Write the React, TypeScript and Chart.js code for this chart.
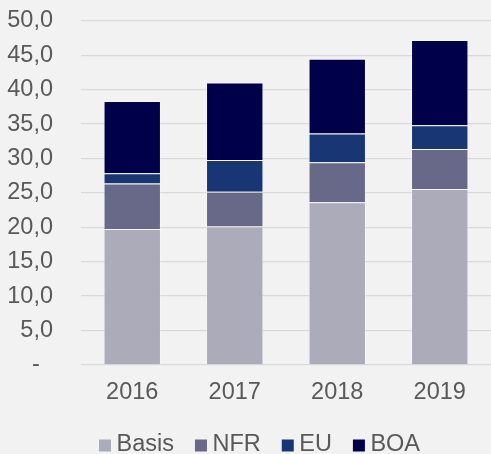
import React, { useEffect, useRef } from "react";
import { Chart, registerables } from "chart.js";

Chart.register(...registerables);

const categories = ["2016", "2017", "2018", "2019"];
const basis = [19.75, 20.1, 23.65, 25.55];
const nfr = [6.6, 5.05, 5.8, 5.85];
const eu = [1.5, 4.65, 4.2, 3.45];
const boa = [10.5, 11.25, 10.85, 12.4];

const seriesNames = ["Basis", "NFR", "EU", "BOA"];
const seriesColors = ["#ABABB9", "#686888", "#183574", "#00004A"];

const TEXT = "#595959";
const FONT = "'Liberation Sans', Arial, sans-serif";
const FS = 23.5;

const customLegend = {
  id: "customLegend",
  afterDraw(chart: any) {
    const ctx = chart.ctx;
    ctx.save();
    ctx.font = `${FS}px ${FONT}`;
    ctx.textBaseline = "alphabetic";
    ctx.textAlign = "left";
    let x = 99;
    const baseY = 451;
    chart.data.datasets.forEach((ds: any) => {
      ctx.fillStyle = ds.backgroundColor;
      ctx.fillRect(x, baseY - 11.5, 12, 12);
      ctx.fillStyle = TEXT;
      const tx = x + 17.5;
      ctx.fillText(ds.label, tx, baseY);
      x = tx + ctx.measureText(ds.label).width + 21;
    });
    ctx.restore();
  },
};

export default function App() {
  const ref = useRef<HTMLCanvasElement>(null);
  useEffect(() => {
    document.body.style.margin = "0";
    document.body.style.background = "#F2F2F2";
    const values = [basis, nfr, eu, boa];
    const chart = new Chart(ref.current!, {
      type: "bar",
      data: {
        labels: categories,
        datasets: seriesNames.map((n, i) => ({
          label: n,
          data: values[i],
          backgroundColor: seriesColors[i],
          borderColor: "rgba(255,255,255,0.3)",
          borderWidth: 1,
          categoryPercentage: 1,
          barPercentage: 0.56,
        })),
      },
      options: {
        responsive: false,
        animation: false,
        layout: { padding: { top: 21, right: 0, left: 0, bottom: 33 } },
        plugins: {
          legend: { display: false },
          tooltip: { enabled: false },
        },
        scales: {
          x: {
            stacked: true,
            grid: { display: false, drawTicks: false },
            border: { display: false },
            ticks: { color: TEXT, font: { size: FS, family: FONT }, padding: 14 },
          },
          y: {
            stacked: true,
            min: 0,
            max: 50,
            afterFit: (s: any) => {
              s.width = 81;
              s.paddingTop = 0;
              s.paddingBottom = 0;
            },
            grid: { color: "#D9D9D9", lineWidth: 1.3, drawTicks: false },
            border: { display: false },
            ticks: {
              stepSize: 5,
              color: TEXT,
              padding: 28,
              font: { size: FS, family: FONT },
              callback: (v: any) => (Number(v) === 0 ? "-  " : Number(v).toFixed(1).replace(".", ",")),
            },
          },
        },
      },
      plugins: [customLegend],
    });
    return () => chart.destroy();
  }, []);
  return (
    <div style={{ width: 491, height: 454, background: "#F2F2F2" }}>
      <canvas ref={ref} width={491} height={454} style={{ display: "block" }} />
    </div>
  );
}
